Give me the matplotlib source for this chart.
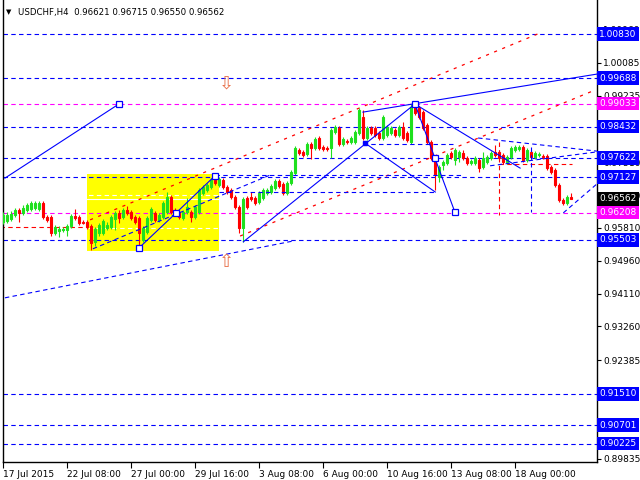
import matplotlib
matplotlib.use('Agg')
import matplotlib.pyplot as plt
from matplotlib.patches import Rectangle
import numpy as np

# H4 candles, 17 Jul 2015 .. 20 Aug 2015
opens = [
    0.9596, 0.9599, 0.9604, 0.9615, 0.9628, 0.9620, 0.9628, 0.9630, 0.9633, 0.9630,
    0.9646, 0.9609, 0.9609, 0.9568, 0.9573, 0.9576, 0.9576, 0.9586, 0.9612, 0.9609,
    0.9596, 0.9596, 0.9586, 0.9545, 0.9568, 0.9568, 0.9581, 0.9584, 0.9604, 0.9620,
    0.9609, 0.9628, 0.9622, 0.9609, 0.9607, 0.9550, 0.9571, 0.9602, 0.9620, 0.9602,
    0.9609, 0.9622, 0.9661, 0.9628, 0.9622, 0.9607, 0.9622, 0.9622, 0.9609, 0.9622,
    0.9672, 0.9679, 0.9687, 0.9705, 0.9692, 0.9705, 0.9687, 0.9679, 0.9661, 0.9635,
    0.9581, 0.9659, 0.9661, 0.9659, 0.9648, 0.9659, 0.9672, 0.9674, 0.9685, 0.9703,
    0.9695, 0.9672, 0.9697, 0.9723, 0.9783, 0.9778, 0.9773, 0.9798, 0.9788, 0.9814,
    0.9791, 0.9788, 0.9788, 0.9830, 0.9840, 0.9798, 0.9806, 0.9804, 0.9804, 0.9827,
    0.9868, 0.9814, 0.9840, 0.9840, 0.9827, 0.9814, 0.9822, 0.9827, 0.9835, 0.9822,
    0.9843, 0.9827, 0.9804, 0.9894, 0.9892, 0.9881, 0.9848, 0.9804, 0.9757, 0.9713,
    0.9744, 0.9749, 0.9775, 0.9757, 0.9765, 0.9775, 0.9762, 0.9749, 0.9749, 0.9757,
    0.9739, 0.9752, 0.9762, 0.9778, 0.9778, 0.9770, 0.9752, 0.9765, 0.9783, 0.9786,
    0.9791, 0.9757, 0.9778, 0.9765, 0.9770, 0.9767, 0.9767, 0.9739, 0.9731, 0.9692,
    0.9653, 0.9646, 0.96621]
highs = [
    0.9622, 0.9622, 0.9625, 0.9633, 0.9633, 0.9641, 0.9646, 0.9651, 0.9651, 0.9651,
    0.9651, 0.9615, 0.9615, 0.9589, 0.9586, 0.9584, 0.9591, 0.9617, 0.9630, 0.9615,
    0.9602, 0.9602, 0.9591, 0.9584, 0.9594, 0.9604, 0.9596, 0.9615, 0.9625, 0.9628,
    0.9633, 0.9638, 0.9628, 0.9615, 0.9612, 0.9586, 0.9612, 0.9635, 0.9625, 0.9620,
    0.9651, 0.9674, 0.9666, 0.9633, 0.9628, 0.9628, 0.9659, 0.9628, 0.9641, 0.9685,
    0.9692, 0.9697, 0.9710, 0.9716, 0.9713, 0.9710, 0.9692, 0.9685, 0.9666, 0.9641,
    0.9661, 0.9664, 0.9674, 0.9664, 0.9677, 0.9685, 0.9685, 0.9695, 0.9708, 0.9708,
    0.9700, 0.9703, 0.9731, 0.9793, 0.9788, 0.9783, 0.9804, 0.9804, 0.9817, 0.9819,
    0.9796, 0.9793, 0.9840, 0.9848, 0.9845, 0.9817, 0.9811, 0.9819, 0.9835, 0.9892,
    0.9886, 0.9845, 0.9845, 0.9845, 0.9832, 0.9874, 0.9848, 0.9845, 0.9840, 0.9848,
    0.9855, 0.9832, 0.9902, 0.9899, 0.9897, 0.9886, 0.9853, 0.9809, 0.9762, 0.9744,
    0.9757, 0.9775, 0.9780, 0.9788, 0.9783, 0.9783, 0.9767, 0.9760, 0.9767, 0.9762,
    0.9778, 0.9770, 0.9780, 0.9796, 0.9783, 0.9775, 0.9770, 0.9793, 0.9796, 0.9796,
    0.9796, 0.9788, 0.9783, 0.9780, 0.9778, 0.9773, 0.9773, 0.9744, 0.9736, 0.9697,
    0.9659, 0.9666, 0.96715]
lows = [
    0.9591, 0.9594, 0.9599, 0.9609, 0.9596, 0.9615, 0.9622, 0.9625, 0.9628, 0.9625,
    0.9604, 0.9596, 0.9560, 0.9563, 0.9558, 0.9571, 0.9560, 0.9581, 0.9602, 0.9589,
    0.9591, 0.9578, 0.9524, 0.9534, 0.9560, 0.9563, 0.9576, 0.9578, 0.9576, 0.9594,
    0.9604, 0.9615, 0.9602, 0.9591, 0.9527, 0.9545, 0.9565, 0.9596, 0.9596, 0.9596,
    0.9604, 0.9617, 0.9617, 0.9615, 0.9604, 0.9602, 0.9617, 0.9596, 0.9604, 0.9617,
    0.9666, 0.9674, 0.9682, 0.9692, 0.9687, 0.9682, 0.9669, 0.9656, 0.9630, 0.9568,
    0.9545, 0.9630, 0.9651, 0.9641, 0.9643, 0.9653, 0.9666, 0.9669, 0.9679, 0.9685,
    0.9666, 0.9666, 0.9692, 0.9718, 0.9770, 0.9765, 0.9767, 0.9760, 0.9783, 0.9783,
    0.9780, 0.9780, 0.9762, 0.9824, 0.9793, 0.9793, 0.9798, 0.9798, 0.9798, 0.9822,
    0.9809, 0.9809, 0.9822, 0.9817, 0.9809, 0.9809, 0.9817, 0.9822, 0.9817, 0.9817,
    0.9809, 0.9804, 0.9798, 0.9874, 0.9863, 0.9835, 0.9798, 0.9757, 0.9679, 0.9700,
    0.9731, 0.9744, 0.9760, 0.9744, 0.9752, 0.9757, 0.9744, 0.9744, 0.9744, 0.9726,
    0.9734, 0.9747, 0.9757, 0.9765, 0.9757, 0.9747, 0.9747, 0.9760, 0.9778, 0.9780,
    0.9752, 0.9752, 0.9760, 0.9760, 0.9765, 0.9760, 0.9731, 0.9721, 0.9687, 0.9648,
    0.9641, 0.9641, 0.96550]
closes = [
    0.9615, 0.9615, 0.9617, 0.9628, 0.9620, 0.9633, 0.9641, 0.9646, 0.9646, 0.9646,
    0.9609, 0.9602, 0.9568, 0.9584, 0.9578, 0.9578, 0.9586, 0.9612, 0.9607, 0.9594,
    0.9594, 0.9584, 0.9542, 0.9578, 0.9589, 0.9599, 0.9589, 0.9609, 0.9620, 0.9607,
    0.9628, 0.9620, 0.9607, 0.9596, 0.9568, 0.9581, 0.9607, 0.9630, 0.9602, 0.9615,
    0.9646, 0.9661, 0.9622, 0.9620, 0.9609, 0.9622, 0.9635, 0.9609, 0.9635, 0.9679,
    0.9687, 0.9692, 0.9705, 0.9697, 0.9708, 0.9687, 0.9674, 0.9661, 0.9635, 0.9581,
    0.9656, 0.9635, 0.9656, 0.9646, 0.9672, 0.9679, 0.9679, 0.9690, 0.9703, 0.9690,
    0.9672, 0.9697, 0.9726, 0.9788, 0.9775, 0.9770, 0.9798, 0.9788, 0.9811, 0.9788,
    0.9786, 0.9786, 0.9835, 0.9843, 0.9798, 0.9811, 0.9804, 0.9814, 0.9830, 0.9886,
    0.9814, 0.9840, 0.9827, 0.9822, 0.9814, 0.9868, 0.9843, 0.9840, 0.9822, 0.9843,
    0.9814, 0.9809, 0.9894, 0.9879, 0.9868, 0.9840, 0.9804, 0.9762, 0.9718, 0.9739,
    0.9752, 0.9770, 0.9765, 0.9783, 0.9778, 0.9762, 0.9749, 0.9754, 0.9762, 0.9736,
    0.9762, 0.9765, 0.9775, 0.9770, 0.9762, 0.9752, 0.9765, 0.9788, 0.9791, 0.9791,
    0.9757, 0.9783, 0.9765, 0.9775, 0.9773, 0.9765, 0.9736, 0.9726, 0.9692, 0.9653,
    0.9646, 0.9661, 0.96562]

date_ticks = [0, 16, 32, 48, 64, 80, 96, 112, 128]
date_labels = ['17 Jul 2015', '22 Jul 08:00', '27 Jul 00:00', '29 Jul 16:00',
               '3 Aug 08:00', '6 Aug 00:00', '10 Aug 16:00', '13 Aug 08:00',
               '18 Aug 00:00']
price_ticks = [1.00960, 1.00085, 0.99235, 0.97510, 0.96660, 0.95810,
               0.94960, 0.94110, 0.93260, 0.92385, 0.89835]

blue_levels = [1.00830, 0.99688, 0.98432, 0.97622, 0.97127, 0.95503,
               0.91510, 0.90701, 0.90225]
magenta_levels = [0.99033, 0.96208]

# analysis objects drawn on the chart, (bar, price) points
solid_lines = [
    [(0.4, 0.9710), (28.9, 0.9902)],
    [(33.9, 0.9529), (43.2, 0.9620), (52.9, 0.9716)],
    [(60.0, 0.9545), (102.9, 0.9902)],
    [(89.9, 0.9881), (148.7, 0.9980)],
    [(90.4, 0.9801), (108.0, 0.9674)],
    [(102.9, 0.9902), (107.9, 0.9762), (112.9, 0.9622)],
    [(102.9, 0.9902), (129.2, 0.9736)],
]
dashed_lines = [
    [(0.4, 0.9400), (72.4, 0.9547)],
    [(22.4, 0.9527), (66.7, 0.9718)],
    [(54.0, 0.9674), (108.0, 0.9674)],
    [(90.0, 0.9798), (113.0, 0.9798)],
    [(53.0, 0.9719), (115.0, 0.9719)],
    [(118.7, 0.9814), (148.4, 0.9780)],
    [(121.7, 0.9742), (148.4, 0.9778)],
    [(131.9, 0.9791), (131.9, 0.9622)],
    [(140.0, 0.9620), (148.4, 0.9695)],
]
red_dotted = [
    [(21.7, 0.9602), (134.2, 1.0086)],
    [(59.2, 0.9560), (147.9, 0.9938)],
]
red_dashed = [
    [(-0.8, 0.9583), (20.9, 0.9583)],
    [(123.9, 0.9804), (123.9, 0.9615)],
    [(123.9, 0.9747), (142.2, 0.9747)],
]
squares = [(28.9, 0.9902), (33.9, 0.9529), (43.2, 0.9620), (52.9, 0.9716),
           (102.9, 0.9902), (107.9, 0.9762), (112.9, 0.9622)]
box = (20.85, 53.9, 0.95213, 0.97208)
arrow_down = (55.7, 0.9954)
arrow_up = (55.7, 0.9493)

BLUE = '#0000ff'
MAGENTA = '#ff00ff'
GREEN = '#1ee01e'
RED = '#ff0000'
FONT = 'DejaVu Sans'
FS = 6.5

fig = plt.figure(figsize=(6.4, 4.8), dpi=100)
ax = fig.add_axes([3 / 640, 18 / 480, 594 / 640, 462 / 480])
ax.set_xlim(-0.075, 148.425)
ax.set_ylim(0.89748, 1.01714)

# yellow rectangle and the white grid showing through it
ax.add_patch(Rectangle((box[0], box[2]), box[1] - box[0], box[3] - box[2],
                       fc='#ffff00', ec='none', zorder=0.5))
for p in price_ticks:
    ax.axhline(p, color='white', lw=0.8, ls=(0, (4, 3)), zorder=0.8)
ax.axhline(closes[-1], color='white', lw=0.8, zorder=0.8)

# candles
o = np.array(opens)
h = np.array(highs)
l = np.array(lows)
c = np.array(closes)
x = np.arange(len(c))
cols = np.where(c >= o, GREEN, RED)
ax.vlines(x, l, h, colors=cols, lw=0.8, zorder=3)
ax.bar(x, np.maximum(np.abs(c - o), 0.00012), bottom=np.minimum(o, c),
       width=0.55, color=cols, ec=cols, lw=0.8, zorder=4)

# levels
for p in blue_levels:
    ax.axhline(p, color=BLUE, lw=0.8, ls=(0, (4, 3)), zorder=2)
for p in magenta_levels:
    ax.axhline(p, color=MAGENTA, lw=0.8, ls=(0, (4, 3)), zorder=2)

for seg in solid_lines:
    xs, ys = zip(*seg)
    ax.plot(xs, ys, color=BLUE, lw=0.8, zorder=5)
for seg in dashed_lines:
    xs, ys = zip(*seg)
    ax.plot(xs, ys, color=BLUE, lw=0.8, ls=(0, (4, 3)), zorder=5)
for seg in red_dotted:
    xs, ys = zip(*seg)
    ax.plot(xs, ys, color=RED, lw=0.9, ls=(0, (2.5, 4.5)), zorder=2.2)
for seg in red_dashed:
    xs, ys = zip(*seg)
    ax.plot(xs, ys, color=RED, lw=0.8, ls=(0, (4, 3)), zorder=2.2)
sx, sy = zip(*squares)
ax.plot(sx, sy, 's', ms=4.5, mfc='white', mec=BLUE, mew=0.9, ls='none', zorder=6)
ax.plot([90.4], [0.9801], 's', ms=2.5, color=BLUE, zorder=6)

ax.text(arrow_down[0], arrow_down[1], '\u21e9', color='#e8704a', fontsize=13,
        ha='center', va='center', family=FONT, zorder=6)
ax.text(arrow_up[0], arrow_up[1], '\u21e7', color='#e8704a', fontsize=13,
        ha='center', va='center', family=FONT, zorder=6)

# axes frame and ticks
ax.spines['top'].set_visible(False)
for side in ['left', 'right', 'bottom']:
    ax.spines[side].set_linewidth(1.0)
ax.yaxis.tick_right()
ax.set_yticks(price_ticks)
ax.set_yticklabels(['%.5f' % p for p in price_ticks], family=FONT, fontsize=FS)
ax.tick_params(axis='y', length=3, width=0.8, pad=1.5)
ax.set_xticks(date_ticks)
ax.set_xticklabels(date_labels, family=FONT, fontsize=FS, ha='left')
ax.tick_params(axis='x', length=4, width=0.8, pad=1.5)

# coloured price labels on the scale
tag_specs = [(p, BLUE) for p in blue_levels] + [(p, MAGENTA) for p in magenta_levels]
tag_specs.append((closes[-1], 'black'))
for p, col in tag_specs:
    ax.text(1.004, p, '%.5f' % p, transform=ax.get_yaxis_transform(),
            ha='left', va='center', color='white', family=FONT, fontsize=FS,
            clip_on=False, zorder=10,
            bbox=dict(boxstyle='square,pad=0.25', fc=col, ec='none'))

# chart title
fig.text(6 / 640, 1 - 12 / 480, '\u25bc', fontsize=5, family=FONT, va='center')
fig.text(18 / 640, 1 - 12 / 480,
         'USDCHF,H4  %.5f %.5f %.5f %.5f' % (opens[-1], highs[-1], lows[-1], closes[-1]),
         fontsize=6.2, family=FONT, va='center')

fig.savefig('out.png', dpi=100)
